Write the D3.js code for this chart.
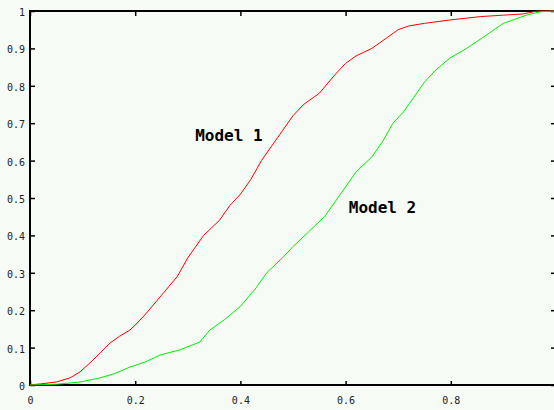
<!DOCTYPE html>
<html>
<head>
<meta charset="utf-8">
<script src="https://cdn.jsdelivr.net/npm/d3@7"></script>
<style>
  html, body { margin: 0; padding: 0; background: #f6fbf6; }
  svg { display: block; }
</style>
</head>
<body>
<svg id="chart" width="554" height="410"></svg>
<script>
const xTicks = [0, 0.2, 0.4, 0.6, 0.8, 1];
const yTicks = [0, 0.1, 0.2, 0.3, 0.4, 0.5, 0.6, 0.7, 0.8, 0.9, 1];
const xTickLabels = ["0", "0.2", "0.4", "0.6", "0.8", "1"];
const yTickLabels = ["0", "0.1", "0.2", "0.3", "0.4", "0.5", "0.6", "0.7", "0.8", "0.9", "1"];

const seriesNames = ["Model 1", "Model 2"];
const model1 = [
  [0, 0], [0.02, 0.003], [0.05, 0.008], [0.076, 0.019], [0.095, 0.035],
  [0.114, 0.059], [0.133, 0.085], [0.152, 0.112], [0.17, 0.13], [0.19, 0.147],
  [0.2, 0.16], [0.22, 0.19], [0.25, 0.24], [0.28, 0.29], [0.3, 0.34],
  [0.33, 0.40], [0.36, 0.44], [0.38, 0.48], [0.4, 0.51], [0.42, 0.55],
  [0.44, 0.60], [0.46, 0.64], [0.48, 0.68], [0.5, 0.72], [0.52, 0.75],
  [0.55, 0.78], [0.58, 0.83], [0.6, 0.86], [0.62, 0.88], [0.65, 0.9],
  [0.68, 0.93], [0.7, 0.95], [0.72, 0.96], [0.75, 0.967], [0.798, 0.976],
  [0.856, 0.985], [0.9, 0.989], [0.937, 0.992], [0.964, 1.0], [1.0, 1.0]
];
const model2 = [
  [0, 0], [0.05, 0.002], [0.095, 0.008], [0.133, 0.019], [0.16, 0.03],
  [0.19, 0.048], [0.22, 0.062], [0.247, 0.08], [0.285, 0.094], [0.323, 0.115],
  [0.342, 0.147], [0.37, 0.175], [0.4, 0.21], [0.43, 0.26], [0.45, 0.3],
  [0.48, 0.34], [0.5, 0.37], [0.53, 0.41], [0.56, 0.45], [0.58, 0.49],
  [0.6, 0.53], [0.62, 0.57], [0.65, 0.61], [0.67, 0.65], [0.69, 0.70],
  [0.71, 0.73], [0.73, 0.77], [0.75, 0.81], [0.77, 0.84], [0.798, 0.874],
  [0.83, 0.9], [0.868, 0.936], [0.9, 0.967], [0.944, 0.989], [0.97, 0.998],
  [1, 1]
];
const labelPos = [[0.314, 0.652], [0.606, 0.46]];

const svg = d3.select("#chart");
const mLeft = 30, mRight = 556, mTop = 11, mBottom = 385;
const x = d3.scaleLinear().domain([0, 1]).range([mLeft, mRight]);
const y = d3.scaleLinear().domain([0, 1]).range([mBottom, mTop]);

const font = "'DejaVu Sans Mono', monospace";

function styleAxis(g) {
  g.select(".domain").remove();
  g.selectAll(".tick line").attr("stroke", "#000").attr("stroke-width", 1.5);
  g.selectAll(".tick text").attr("fill", "#222").style("font-family", font).style("font-size", "10px");
}

svg.append("g").attr("transform", `translate(${mLeft},0)`)
  .call(d3.axisLeft(y).tickValues(yTicks).tickFormat((d, i) => yTickLabels[i]).tickSize(-5).tickPadding(5).tickSizeOuter(0))
  .call(styleAxis)
  .selectAll(".tick text").attr("dy", "0.45em");

svg.append("g").attr("transform", `translate(${mRight},0)`)
  .call(d3.axisRight(y).tickValues(yTicks).tickFormat("").tickSize(-5).tickSizeOuter(0))
  .call(styleAxis);

svg.append("g").attr("transform", `translate(0,${mBottom})`)
  .call(d3.axisBottom(x).tickValues(xTicks).tickFormat((d, i) => xTickLabels[i]).tickSize(-4).tickPadding(12).tickSizeOuter(0))
  .call(styleAxis);

svg.append("g").attr("transform", `translate(0,${mTop})`)
  .call(d3.axisTop(x).tickValues(xTicks).tickFormat("").tickSize(-5).tickSizeOuter(0))
  .call(styleAxis);

svg.append("rect")
  .attr("x", mLeft).attr("y", mTop)
  .attr("width", mRight - mLeft).attr("height", mBottom - mTop)
  .attr("fill", "none").attr("stroke", "#000").attr("stroke-width", 2);

const line = d3.line().x(d => x(d[0])).y(d => y(d[1]));
const colors = ["#ff0000", "#00ee00"];
[model1, model2].forEach((data, i) => {
  svg.append("path").datum(data)
    .attr("d", line)
    .attr("fill", "none")
    .attr("stroke", colors[i])
    .attr("stroke-width", 1);
});

seriesNames.forEach((name, i) => {
  svg.append("text")
    .attr("x", x(labelPos[i][0]))
    .attr("y", y(labelPos[i][1]))
    .attr("fill", "#000")
    .style("font-family", font)
    .style("font-size", "16px")
    .style("font-weight", "bold")
    .text(name);
});
</script>
</body>
</html>
